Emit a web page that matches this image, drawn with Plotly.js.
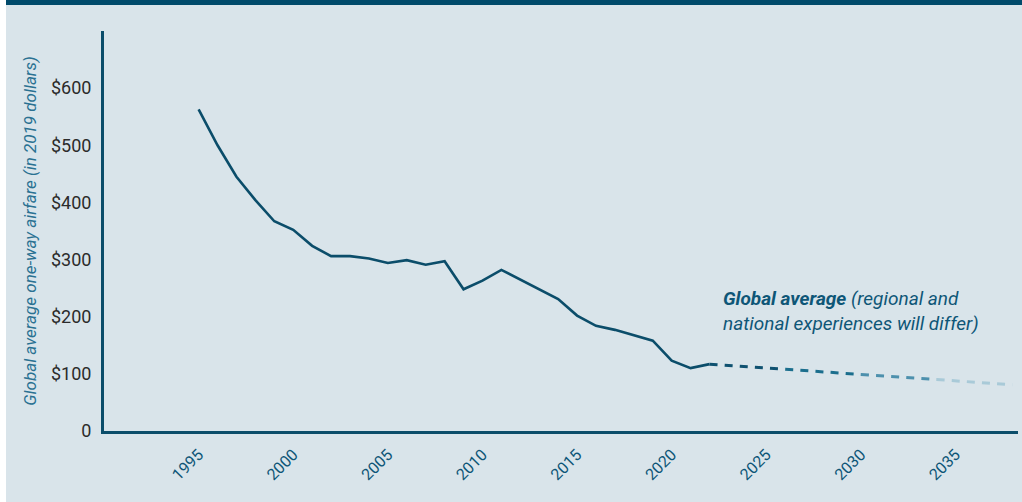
<!DOCTYPE html>
<html>
<head>
<meta charset="utf-8">
<script src="https://cdn.plot.ly/plotly-3.0.1.min.js"></script>
<style>
  html, body { margin: 0; padding: 0; background: #ffffff; width: 1022px; height: 502px; overflow: hidden; }
  #wrap { position: absolute; left: 6px; top: 0; width: 1016px; height: 502px; background: #d9e4ea; }
  #band { position: absolute; left: 0; top: 0; width: 1016px; height: 5px; background: #004a6b; z-index: 5; }
  #chart { position: absolute; left: 0; top: 0; width: 1016px; height: 502px; }
</style>
</head>
<body>
<div id="wrap"><div id="chart"></div><div id="band"></div></div>
<script>
// Historical global average one-way airfare (2019 dollars)
const years = [1995,1996,1997,1998,1999,2000,2001,2002,2003,2004,2005,2006,2007,2008,2009,2010,2011,2012,2013,2014,2015,2016,2017,2018,2019,2020,2021,2022];
const fares = [563,500,445,404,367,352,324,306,306,302,294,299,291,297,248,263,282,265,247,231,202,184,177,167,158,123,110,117];

// Projection (dashed, fading)
const projYears = [2022, 2026, 2030, 2034, 2038];
const projFares = [117, 108, 99, 90, 81];

// Axis ticks
const xTicks = [1995, 2000, 2005, 2010, 2015, 2020, 2025, 2030, 2035];
const yTicks = [0, 100, 200, 300, 400, 500, 600];
const yTickText = ['0', '$100', '$200', '$300', '$400', '$500', '$600'];

const dark = '#0b4d6a';
const segColors = ['#0f5170', '#1b6e8d', '#4d90ad', '#a9cad8'];

const traces = [{
  x: years, y: fares, type: 'scatter', mode: 'lines',
  line: { color: dark, width: 2.6 }, hoverinfo: 'skip'
}];
for (let i = 0; i < projYears.length - 1; i++) {
  traces.push({
    x: [projYears[i], projYears[i + 1]],
    y: [projFares[i], projFares[i + 1]],
    type: 'scatter', mode: 'lines',
    line: { color: segColors[i], width: 3, dash: '8px,7.14px' },
    hoverinfo: 'skip'
  });
}

const layout = {
  width: 1016, height: 502,
  margin: { l: 98, r: 4, t: 31, b: 71 },
  paper_bgcolor: 'rgba(0,0,0,0)',
  plot_bgcolor: 'rgba(0,0,0,0)',
  showlegend: false,
  font: { family: 'Roboto, sans-serif' },
  xaxis: {
    range: [1990, 2038.3],
    tickvals: xTicks,
    tickangle: -45,
    showgrid: false, zeroline: false,
    showline: true, linecolor: dark, linewidth: 3,
    ticks: '', ticklabelstandoff: 5,
    tickfont: { family: 'Roboto, sans-serif', size: 16, color: '#0e5677' }
  },
  yaxis: {
    range: [0, 700],
    tickvals: yTicks, ticktext: yTickText,
    showgrid: false, zeroline: false,
    showline: true, linecolor: dark, linewidth: 3,
    ticks: '', ticklabelstandoff: 6,
    tickfont: { family: 'Roboto, sans-serif', size: 18, color: '#2b2b2b' },
    title: {
      text: '<i>Global average one-way airfare (in 2019 dollars)</i>',
      font: { family: 'Roboto, sans-serif', size: 17, color: '#2a7192' },
      standoff: 10
    }
  },
  annotations: [{
    xref: 'x', yref: 'y', x: 2022.6, y: 210,
    xanchor: 'left', yanchor: 'middle', align: 'left', showarrow: false,
    text: '<b><i>Global average</i></b><i> (regional and</i><br><i>national experiences will differ)</i>',
    font: { family: 'Roboto, sans-serif', size: 19, color: '#0e5677' }
  }]
};

Plotly.newPlot('chart', traces, layout, { staticPlot: true, displayModeBar: false });
</script>
</body>
</html>
